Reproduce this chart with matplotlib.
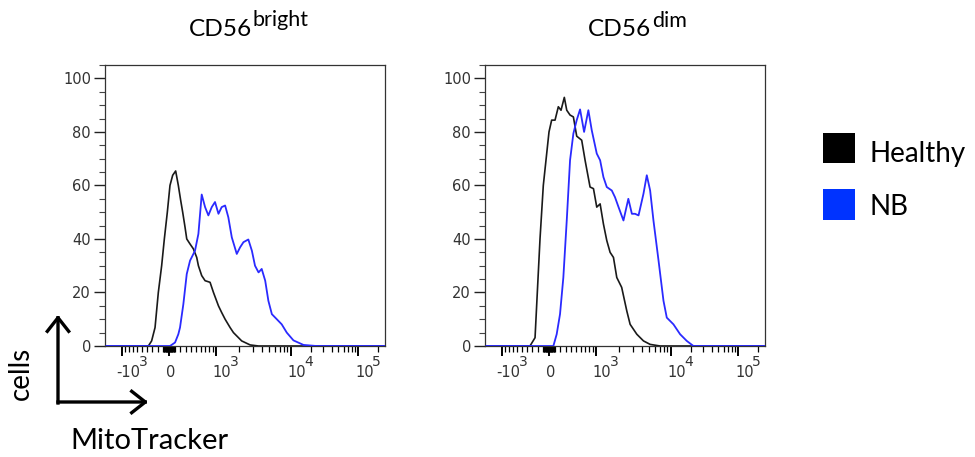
import numpy as np
import matplotlib
matplotlib.use("Agg")
import matplotlib.pyplot as plt
from matplotlib.patches import Rectangle, FancyArrowPatch
from matplotlib.ticker import FixedLocator, MultipleLocator, NullFormatter

# ---------------- data: MitoTracker intensity vs. cell count ----------------
bright_healthy_x = [-1600, -371, -309, -246, -187, -128, -81, -29, 17, 64, 116, 163, 205,
                    241, 284, 316, 379, 445, 514, 550, 624, 704, 832, 928, 1083, 1194,
                    1323, 1533, 1693, 2159, 2780, 3593, 262144]
bright_healthy_y = [0, 0, 1.9, 6.9, 20, 30, 40, 50, 60, 63.8, 65.4, 60, 54.4,
                    50, 44.4, 40, 38.1, 36.3, 33.1, 30, 26.3, 24.4, 23.8, 20, 15, 12.5,
                    10, 6.9, 5, 1.9, 0.4, 0, 0]

bright_nb_x = [-1600, 17, 105, 163, 193, 253, 316, 379, 478, 550, 624, 704, 787, 879,
               974, 1083, 1194, 1323, 1455, 1612, 1867, 2062, 2276, 2634, 2932, 3225,
               3593, 3961, 4418, 4880, 5450, 6381, 7475, 8815, 10975, 15331, 23624, 262144]
bright_nb_y = [0, 0, 1.3, 4.4, 6.9, 15.6, 26.9, 31.9, 35.6, 41.9, 56.6, 51.9, 48.8, 51.9,
               53.8, 49.4, 51.9, 52.5, 48.1, 40.6, 34.4, 36.9, 38.8, 39.8, 35.6, 30,
               27.5, 28.8, 24.4, 16.9, 11.9, 10, 8.1, 5, 2.1, 0.4, 0, 0]

dim_healthy_x = [-1600, -340, -246, -205, -157, -99, 0, 46, 105, 163, 211, 271, 316, 379,
                 445, 514, 624, 704, 832, 928, 1028, 1139, 1258, 1390, 1533, 1693, 1867,
                 2159, 2515, 2780, 3406, 4185, 5160, 7100, 262144]
dim_healthy_y = [0, 0, 3.1, 20, 40, 60, 80, 84.4, 84.4, 89.4, 88.1, 92.9, 88.1, 86.3,
                 85.6, 78.4, 76.9, 69.4, 59.4, 58.8, 51.9, 53.1, 45.6, 39.4, 35, 33.1, 25.6,
                 21.9, 13.1, 8.1, 4.4, 1.9, 0.6, 0, 0]

dim_nb_x = [-1600, 76, 134, 193, 253, 316, 379, 445, 514, 587, 680, 787, 879, 1028, 1139,
            1258, 1390, 1612, 1772, 1967, 2276, 2634, 2932, 3225, 3593, 4185, 4643, 5160,
            5732, 6747, 7916, 8815, 10975, 13691, 17114, 21425, 262144]
dim_nb_y = [0, 0, 4.4, 11.9, 25.6, 46.9, 69.4, 79.4, 84.4, 88.4, 80, 88.1, 80.6, 71.9, 69.4,
            63.1, 59.4, 58.1, 55.6, 51.9, 46.9, 55, 49.4, 49.4, 48.8, 56.9, 63.8, 58.1,
            46.9, 31.9, 16.9, 10.6, 8.1, 4.4, 1.9, 0, 0]

panel_titles = ["CD56", "CD56"]
panel_sups = ["bright", "dim"]
group_names = ["Healthy", "NB"]
y_ticks = [0, 20, 40, 60, 80, 100]
x_major = [-1000, 0, 1000, 10000, 100000]
x_major_base = ["-10", "0", "10", "10", "10"]
x_major_exp = ["3", "", "3", "4", "5"]

HEALTHY_C = "#1a1a1a"
NB_C = "#2a2aff"
LABEL_C = "#333333"

# ---------------- biexponential (logicle-style) axis ----------------
P = 2.7
C = 134.4


def biex_inverse(v):
    v = np.asarray(v, dtype=float)
    a = np.abs(v)
    return np.sign(v) * C * (10.0 ** a - P ** 2 * 10.0 ** (-a / P) + P ** 2 - 1)


_v_grid = np.linspace(-1.5, 3.8, 6001)
_x_grid = biex_inverse(_v_grid)


def biex_forward(x):
    return np.interp(np.asarray(x, dtype=float), _x_grid, _v_grid)


x_lo = float(biex_inverse(-64 / 66))
x_hi = float(biex_inverse(216 / 66))

minor = []
for k in range(1, 10):
    minor += [-100 * k, -10 * k, 10 * k, 100 * k]
for k in range(2, 10):
    minor += [1000 * k, 10000 * k]
minor += [200000]

# ---------------- figure ----------------
W, H = 975, 457
DPI = 100
fig = plt.figure(figsize=(W / DPI, H / DPI), dpi=DPI)


def fx(px):
    return px / W


def fy(py):
    return 1 - py / H


panels = [
    (105, bright_healthy_x, bright_healthy_y, bright_nb_x, bright_nb_y),
    (485, dim_healthy_x, dim_healthy_y, dim_nb_x, dim_nb_y),
]

TICK_FS = 10.5
for left, hx, hy, nx, ny in panels:
    ax = fig.add_axes([fx(left), fy(346), 280 / W, 281 / H])
    ax.set_xscale("function", functions=(biex_forward, biex_inverse))
    ax.plot(hx, hy, color=HEALTHY_C, lw=1.2, zorder=3)
    ax.plot(nx, ny, color=NB_C, lw=1.3, zorder=4)
    ax.set_xlim(x_lo, x_hi)
    ax.set_ylim(0, 105)

    ax.set_yticks(y_ticks)
    ax.yaxis.set_minor_locator(MultipleLocator(5))
    ax.xaxis.set_major_locator(FixedLocator(x_major))
    ax.xaxis.set_major_formatter(NullFormatter())
    ax.xaxis.set_minor_locator(FixedLocator(minor))
    ax.xaxis.set_minor_formatter(NullFormatter())

    ax.tick_params(axis="y", which="major", direction="out", length=8, width=1,
                   color="#222222", labelsize=10.5, labelcolor=LABEL_C, pad=2)
    ax.tick_params(axis="y", which="minor", direction="out", length=4.5, width=0.8,
                   color="#444444")
    ax.tick_params(axis="x", which="major", direction="out", length=7, width=1.4,
                   color="black")
    ax.tick_params(axis="x", which="minor", direction="out", length=4, width=0.9,
                   color="black")
    for sp in ax.spines.values():
        sp.set_color("#333333")
        sp.set_linewidth(0.9)

    # decade labels: base number just beside the tick, exponent raised next to it
    for val, base, exp in zip(x_major, x_major_base, x_major_exp):
        if base.startswith("-"):
            ha, dx = "right", 18
        else:
            ha, dx = "left", -3
        t = ax.annotate(base, xy=(val, 0), xycoords=("data", "axes fraction"),
                        xytext=(dx, -31), textcoords="offset pixels", ha=ha,
                        va="baseline", fontsize=TICK_FS, color=LABEL_C,
                        annotation_clip=False)
        if exp:
            ax.annotate(exp, xy=(1, 0), xycoords=t, xytext=(-1.5, 10.6),
                        textcoords="offset pixels", ha="left", va="bottom",
                        fontsize=TICK_FS - 0.5, color=LABEL_C, annotation_clip=False)

# panel titles with superscripts
title_font = "Lato"
fig.text(fx(252), fy(36), panel_titles[0], ha="right", va="baseline",
         fontsize=17.6, family=title_font)
fig.text(fx(253), fy(26), panel_sups[0], ha="left", va="baseline",
         fontsize=15.5, family=title_font)
fig.text(fx(651), fy(36), panel_titles[1], ha="right", va="baseline",
         fontsize=17.6, family=title_font)
fig.text(fx(652), fy(27), panel_sups[1], ha="left", va="baseline",
         fontsize=15.5, family=title_font)

# legend
fig.add_artist(Rectangle((fx(823), fy(163)), 32 / W, 30 / H, transform=fig.transFigure,
                         facecolor="black", edgecolor="none"))
fig.add_artist(Rectangle((fx(823), fy(220)), 32 / W, 31 / H, transform=fig.transFigure,
                         facecolor="#0033ff", edgecolor="none"))
fig.text(fx(869), fy(162), group_names[0], ha="left", va="baseline",
         fontsize=20, family=title_font)
fig.text(fx(869), fy(215), group_names[1], ha="left", va="baseline",
         fontsize=20, family=title_font)

# axis-direction arrows
arrow_kw = dict(transform=fig.transFigure, arrowstyle="->,head_length=0.7,head_width=0.55",
                mutation_scale=14, color="black", lw=2.4, shrinkA=0, shrinkB=0,
                capstyle="projecting")
fig.add_artist(FancyArrowPatch((fx(58), fy(403)), (fx(58), fy(315)), **arrow_kw))
fig.add_artist(FancyArrowPatch((fx(58), fy(402)), (fx(148), fy(402)), **arrow_kw))

fig.text(fx(21), fy(373), "cells", rotation=90, ha="center", va="center",
         fontsize=20, family=title_font)
fig.text(fx(149), fy(449), "MitoTracker", ha="center", va="baseline",
         fontsize=21, family=title_font)

fig.savefig("out.png", dpi=DPI)
